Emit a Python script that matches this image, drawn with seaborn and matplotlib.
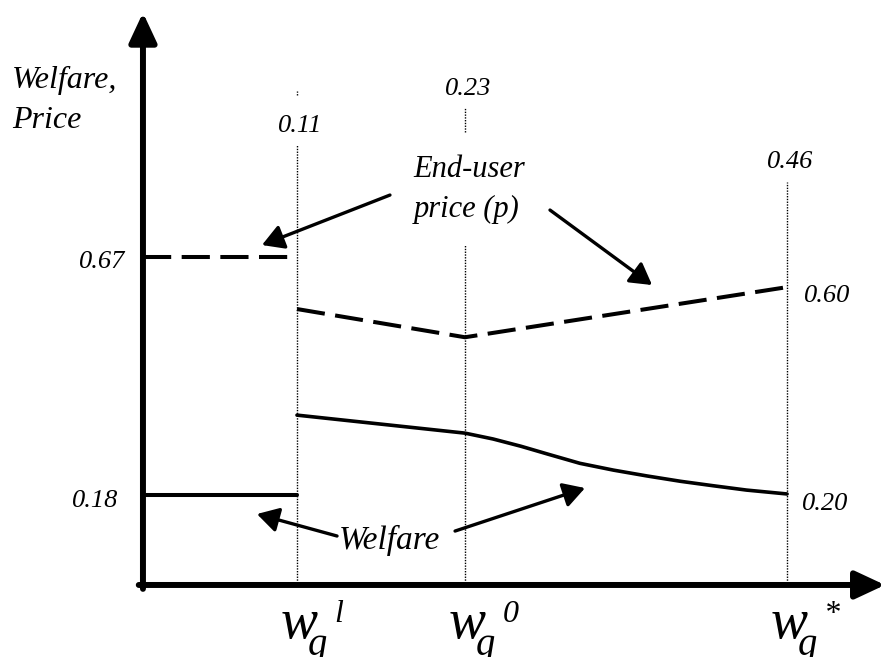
import matplotlib
matplotlib.use('Agg')
import matplotlib.pyplot as plt
import seaborn as sns

# break points on the w_g axis (0.11, 0.23, 0.46)
x_breaks = [0.11, 0.23, 0.46]
break_labels = ['0.11', '0.23', '0.46']
w_labels = ['l', '0', '*']

# end-user price (p): low segment and the V-shaped segment
price_low_x = [0.0, 0.11]
price_low = [0.67, 0.67]
price_high_x = [0.11, 0.23, 0.46]
price_high = [0.563, 0.505, 0.608]

# welfare: low segment and the falling curve
welfare_low_x = [0.0, 0.11]
welfare_low = [0.18, 0.18]
welfare_high_x = [0.11, 0.23, 0.250, 0.270, 0.289, 0.312, 0.336, 0.360, 0.384, 0.407, 0.431, 0.46]
welfare_high = [0.345, 0.308, 0.296, 0.281, 0.265, 0.246, 0.232, 0.220, 0.209, 0.200, 0.191, 0.183]

# value labels at the ends of the segments
value_labels = ['0.67', '0.18', '0.60', '0.20']


def main():
    sns.set_theme(style='white')
    plt.rcParams['font.family'] = ['Liberation Serif', 'DejaVu Serif']
    plt.rcParams['font.style'] = 'italic'
    plt.rcParams['text.color'] = 'black'

    fig = plt.figure(figsize=(8.88, 6.57), dpi=100)
    ax = fig.add_axes([0, 0, 1, 1])
    ax.set_xlim(-0.1021, 0.5321)
    ax.set_ylim(-0.152, 1.198)
    ax.axis('off')

    # dotted guides at the break points
    dot = (0, (1, 1))
    ax.vlines(x_breaks, 0, [0.900, 0.694, 0.824], colors='black', linewidth=1.0, linestyles=dot)
    ax.vlines([0.11, 0.23], [1.003, 0.927], [1.010, 0.978], colors='black', linewidth=1.0, linestyles=dot)

    # the curves
    dash = (0, (7, 2.6))
    sns.lineplot(x=price_low_x, y=price_low, ax=ax, color='black', lw=2.9,
                 linestyle=dash, estimator=None, sort=False)
    sns.lineplot(x=price_high_x, y=price_high, ax=ax, color='black', lw=2.9,
                 linestyle=dash, estimator=None, sort=False)
    sns.lineplot(x=welfare_low_x, y=welfare_low, ax=ax, color='black', lw=2.9,
                 estimator=None, sort=False)
    sns.lineplot(x=welfare_high_x, y=welfare_high, ax=ax, color='black', lw=2.6,
                 estimator=None, sort=False)

    # axes with arrow heads
    axis_arrow = dict(arrowstyle='-|>,head_length=0.9,head_width=0.42', lw=4.3,
                      color='black', shrinkA=0, shrinkB=0, mutation_scale=20)
    ax.annotate('', xy=(0, 1.172), xytext=(0, -0.012), arrowprops=axis_arrow,
                annotation_clip=False)
    ax.annotate('', xy=(0.530, -0.004), xytext=(-0.003, -0.004), arrowprops=axis_arrow,
                annotation_clip=False)

    # pointer arrows
    pointer = dict(arrowstyle='-|>,head_length=1.3,head_width=0.75', lw=2.4,
                   color='black', shrinkA=0, shrinkB=0, mutation_scale=10)
    for start, tip in [((0.1764, 0.7972), (0.0850, 0.6945)),
                       ((0.2907, 0.7664), (0.3636, 0.6123)),
                       ((0.1386, 0.0966), (0.0814, 0.1418)),
                       ((0.2229, 0.1068), (0.3157, 0.1952))]:
        ax.annotate('', xy=tip, xytext=start, arrowprops=pointer)

    # texts
    ax.text(-0.0936, 1.017, 'Welfare,', fontsize=23, ha='left', va='baseline')
    ax.text(-0.0936, 0.935, 'Price', fontsize=23, ha='left', va='baseline')
    ax.text(0.233, 0.834, 'End-user', fontsize=22, ha='center', va='baseline')
    ax.text(0.231, 0.752, 'price (p)', fontsize=22, ha='center', va='baseline')
    ax.text(0.176, 0.070, 'Welfare', fontsize=24, ha='center', va='baseline')

    for x, lab, yb in zip(x_breaks, break_labels, [0.927, 1.003, 0.853]):
        ax.text(x + 0.002, yb, lab, fontsize=19, ha='center', va='baseline')

    for lab, (x, y) in zip(value_labels, [(-0.029, 0.647), (-0.034, 0.156),
                                          (0.489, 0.577), (0.487, 0.150)]):
        ax.text(x, y, lab, fontsize=19, ha='center', va='baseline')

    # w_g labels under the axis
    for x, sup in zip(x_breaks, w_labels):
        xw = x - 0.012
        ax.text(xw, -0.113, 'w', fontsize=40, ha='left', va='baseline')
        ax.annotate('g', xy=(xw, -0.113), xytext=(20, -12), textcoords='offset points',
                    fontsize=28, ha='left', va='baseline')
        ax.annotate(sup, xy=(xw, -0.113), xytext=(39, 11.5), textcoords='offset points',
                    fontsize=23, ha='left', va='baseline')

    fig.savefig('out.png', dpi=100)
    plt.close(fig)


if __name__ == '__main__':
    main()
